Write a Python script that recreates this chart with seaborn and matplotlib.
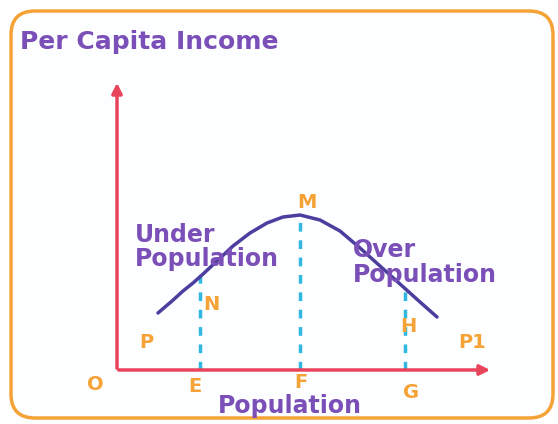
import pandas as pd
import matplotlib.pyplot as plt
import seaborn as sns
from matplotlib.patches import FancyBboxPatch

# ==============================
# Data (origin O = (0, 0))
# ==============================
population = [41, 55, 66, 76, 85, 100, 116, 133, 150, 166, 183, 203, 223, 243, 263, 283, 303, 320]
income = [57, 69, 79, 87, 95, 109, 124, 137, 147, 153, 155, 150, 139, 122, 104, 86, 68, 53]

guide_names = ['E', 'F', 'G']
guide_x = [83, 183, 288]
guide_top = [95, 155, 85]

curve = pd.DataFrame({'Population': population, 'Income': income})

sns.set_style('white')
plt.rcParams['font.family'] = ['DejaVu Sans']

fig = plt.figure(figsize=(5.58, 4.24), dpi=100)
ax = fig.add_axes([0, 0, 1, 1])
ax.set_xlim(-117, 441)
ax.set_ylim(-54, 370)

orange = '#f5a236'
purple = '#7a4fb8'
axis_red = '#e8445c'
curve_blue = '#4b3e9e'
cyan = '#2eb8e2'

# rounded frame
frame = FancyBboxPatch((-106, -48), 542, 407, boxstyle='round,pad=0,rounding_size=24',
                       fc='#fdfeff', ec=orange, lw=2.5, zorder=0)
ax.add_patch(frame)

# axes arrows
ax.annotate('', xy=(0, 290), xytext=(0, -1),
            arrowprops=dict(arrowstyle='-|>,head_length=0.6,head_width=0.3', color=axis_red, lw=2.5))
ax.annotate('', xy=(376, 0), xytext=(-1, 0),
            arrowprops=dict(arrowstyle='-|>,head_length=0.6,head_width=0.3', color=axis_red, lw=2.5))

# dashed guides
for gx, gt in zip(guide_x, guide_top):
    ax.plot([gx, gx], [0, gt], color=cyan, lw=2.5, ls=(0, (2.5, 2.5)), zorder=2)

# curve
sns.lineplot(data=curve, x='Population', y='Income', sort=False, color=curve_blue,
             lw=2.5, ax=ax, zorder=3, solid_joinstyle='round', solid_capstyle='round')
ax.axis('off')

# point labels
lab = dict(color=orange, fontsize=14, fontweight='bold', ha='center', va='center')
ax.text(-22, -14, 'O', **lab)
ax.text(78, -16, 'E', **lab)
ax.text(184, -12, 'F', **lab)
ax.text(294, -22, 'G', **lab)
ax.text(94, 66, 'N', **lab)
ax.text(190, 168, 'M', **lab)
ax.text(291, 44, 'H', **lab)
ax.text(29, 28, 'P', **lab)
ax.text(355, 28, 'P1', **lab)

txt = dict(color=purple, fontweight='bold')
ax.text(-97, 328, 'Per Capita Income', va='center', ha='left', fontsize=18, **txt)
ax.text(18, 128, 'Under', va='baseline', ha='left', fontsize=17, **txt)
ax.text(18, 104, 'Population', va='baseline', ha='left', fontsize=17, **txt)
ax.text(236, 113, 'Over', va='baseline', ha='left', fontsize=17, **txt)
ax.text(236, 88, 'Population', va='baseline', ha='left', fontsize=17, **txt)
ax.text(173, -36, 'Population', va='center', ha='center', fontsize=17, **txt)

fig.savefig('out.png', dpi=100)
